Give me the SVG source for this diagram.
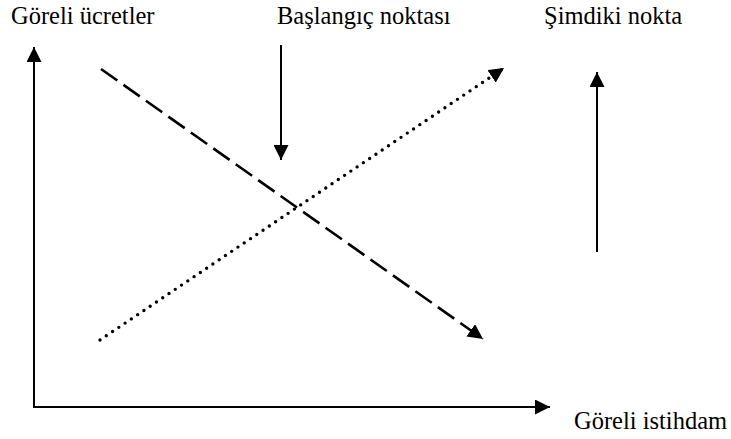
<svg xmlns="http://www.w3.org/2000/svg" width="731" height="439" viewBox="0 0 731 439">
<style>
.ax{stroke:#000;stroke-width:2;fill:none}
.dash{stroke:#000;stroke-width:2.6;fill:none;stroke-dasharray:20 7.5}
.dot{stroke:#000;stroke-width:3.4;fill:none;stroke-dasharray:0 7.56;stroke-linecap:round}
</style>
<defs>
<marker id="ah" viewBox="0 0 10 10" refX="10" refY="5" markerUnits="userSpaceOnUse" markerWidth="15" markerHeight="15" orient="auto">
<path d="M0,0 L10,5 L0,10 z" fill="#000"/>
</marker>
</defs>
<g id="labels" fill="#000">
<text id="y-label" x="11" y="24" font-family="Liberation Serif" font-size="24.5">Göreli ücretler</text>
<text id="start-label" x="277" y="24" font-family="Liberation Serif" font-size="24.5">Başlangıç noktası</text>
<text id="now-label" x="544" y="24" font-family="Liberation Serif" font-size="24.5">Şimdiki nokta</text>
<text id="x-label" x="574" y="429" font-family="Liberation Serif" font-size="24.5">Göreli istihdam</text>
</g>
<g id="connectors">
<line class="ax" x1="34" y1="407" x2="550" y2="407" marker-end="url(#ah)"/>
<line class="ax" x1="34" y1="408" x2="34" y2="47" marker-end="url(#ah)"/>
<line class="ax" x1="281" y1="45" x2="281" y2="160" marker-end="url(#ah)"/>
<line class="ax" x1="597" y1="252" x2="597" y2="72" marker-end="url(#ah)"/>
<line class="dash" x1="101" y1="69" x2="483" y2="339" marker-end="url(#ah)"/>
<line class="dot" x1="100" y1="340" x2="504" y2="68" marker-end="url(#ah)"/>
</g>
</svg>
